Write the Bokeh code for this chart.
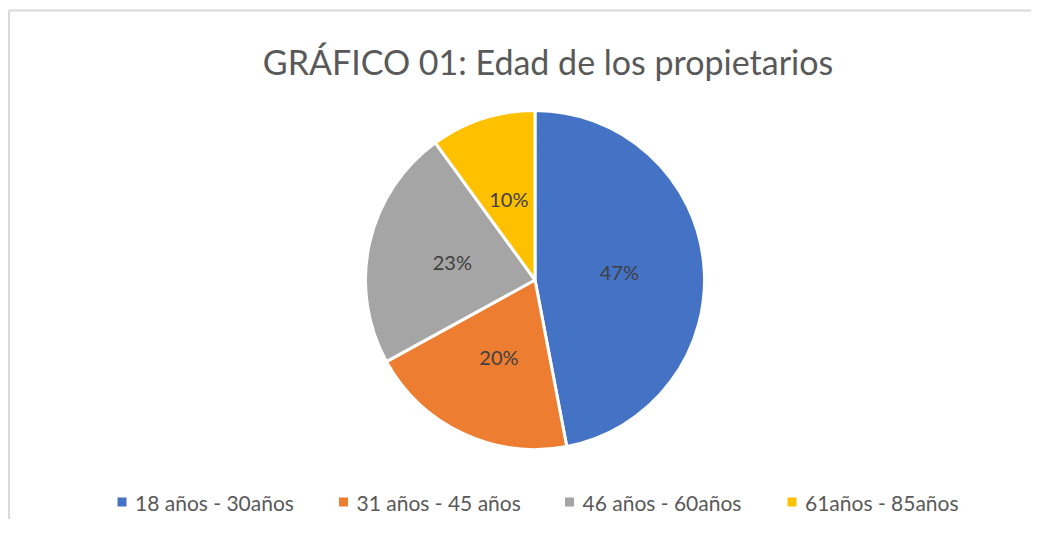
import math
from bokeh.plotting import figure
from bokeh.models import ColumnDataSource, Range1d
from bokeh.core.properties import value
from bokeh.embed import file_html
from bokeh.resources import INLINE

# ---- data ----
title_text = "GRÁFICO 01: Edad de los propietarios"
categories = ["18 años - 30años", "31 años - 45 años", "46 años - 60años", "61años - 85años"]
percent_values = [47, 20, 23, 10]
colors = ["#4472C4", "#ED7D31", "#A5A5A5", "#FFC000"]

# ---- layout ----
W, H = 1031, 519
FONT = "Lato"
cx, cy, R = 534.5, 239.5, 169.5
legend_marker_x = [121.5, 343, 569, 791.5]
legend_y = 17.5

total = float(sum(percent_values))
starts, ends, lx, ly, labels = [], [], [], [], []
cum = 0.0
for v in percent_values:
    a0 = math.pi / 2 - 2 * math.pi * cum / total
    cum += v
    a1 = math.pi / 2 - 2 * math.pi * cum / total
    starts.append(a0)
    ends.append(a1)
    mid = (a0 + a1) / 2
    lx.append(cx + 0.5 * R * math.cos(mid))
    ly.append(cy + 0.5 * R * math.sin(mid))
    labels.append(f"{v / total * 100:.0f}%")

src = ColumnDataSource(dict(start=starts, end=ends, color=colors, cat=categories,
                            lx=lx, ly=ly, label=labels))

p = figure(width=W, height=H, output_backend="svg", toolbar_location=None,
           x_range=Range1d(0, W), y_range=Range1d(0, H), min_border=0,
           background_fill_color="white", border_fill_color="white")
p.axis.visible = False
p.grid.visible = False
p.outline_line_color = None

# frame
p.line([8.5, 8.5], [0, 509], line_color="#D9D9D9", line_width=2)
p.line([8, W], [509, 509], line_color="#D9D9D9", line_width=2)

# pie
p.wedge(x=cx, y=cy, radius=R, start_angle="start", end_angle="end", direction="clock",
        fill_color="color", line_color="white", line_width=3, source=src)

# data labels
p.text(x="lx", y="ly", text="label", source=src, text_align="center", text_baseline="middle",
       text_font=value(FONT), text_font_size="20px", text_color="#404040")

# title
p.text(x=[547.5], y=[458], text=[title_text], text_align="center", text_baseline="alphabetic",
       text_font=value(FONT), text_font_size="34px", text_color="#595959")

# legend
p.scatter(x=legend_marker_x, y=[legend_y] * 4, marker="square", size=9,
          fill_color=colors, line_color=None)
p.text(x=[x + 13 for x in legend_marker_x], y=[legend_y] * 4, text=categories,
       text_align="left", text_baseline="middle", text_font=value(FONT),
       text_font_size="21px", text_color="#595959")

open("out.html", "w").write(file_html(p, INLINE))
